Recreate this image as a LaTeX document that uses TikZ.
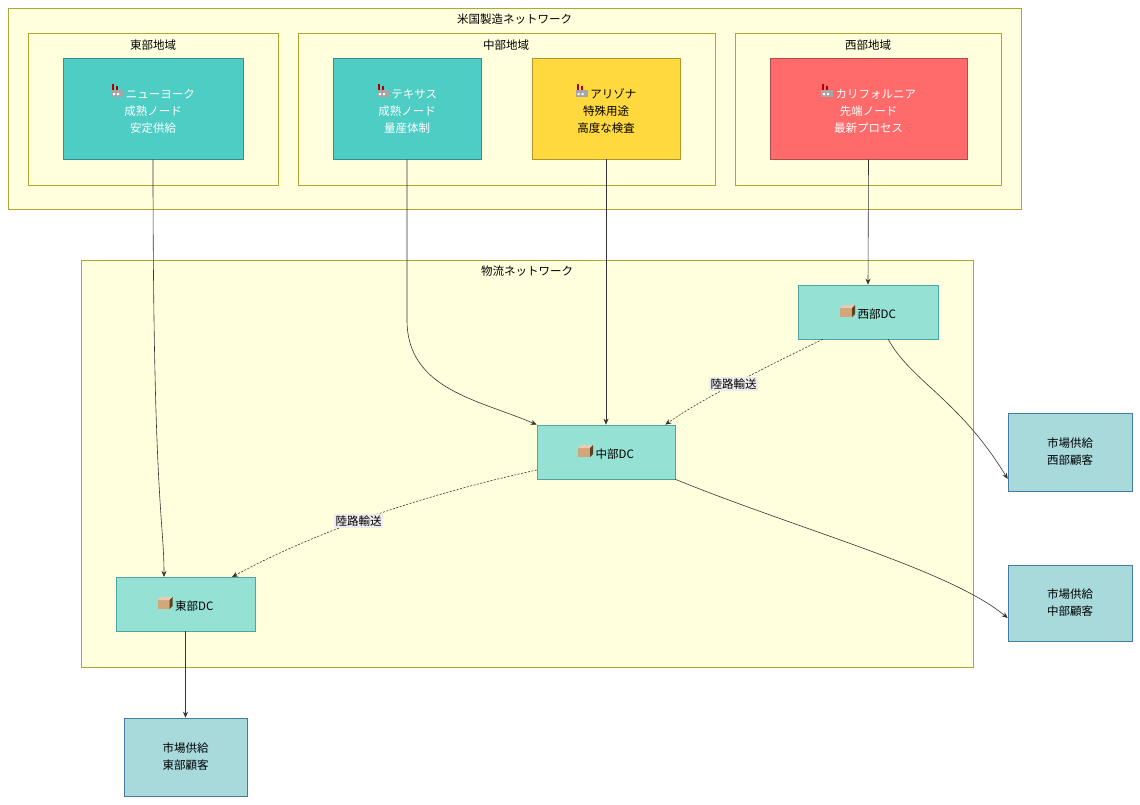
\documentclass[tikz,border=0pt]{standalone}
\usepackage{fontspec}
\setmainfont{Noto Sans CJK JP}
\usetikzlibrary{arrows.meta}
\definecolor{clf}{HTML}{FFFFDE}\definecolor{cls}{HTML}{AAAA33}
\definecolor{teal1}{HTML}{4ECDC4}\definecolor{yel}{HTML}{FFD93D}\definecolor{red1}{HTML}{FF6B6B}
\definecolor{dc}{HTML}{95E1D3}\definecolor{mk}{HTML}{A8DADC}\definecolor{mks}{HTML}{457B9D}
\newcommand{\fac}{\tikz[baseline=-1pt,x=1pt,y=1pt]{\fill[gray!70](0,0) rectangle (12,7);\fill[red!70!black](1,7) rectangle (3,13);\fill[red!70!black](5,7) rectangle (7,11);\fill[white](2,2) rectangle (4,4) (6,2) rectangle (8,4);}}
\newcommand{\pkg}{\tikz[baseline=-1pt,x=1pt,y=1pt]{\fill[brown!70](0,0) rectangle (12,9);\fill[brown!40](0,9)--(3,12)--(15,12)--(12,9)--cycle;\fill[brown!50!black](12,0)--(15,3)--(15,12)--(12,9)--cycle;}}
\begin{document}
\begin{tikzpicture}[x=1pt,y=-1pt,font=\fontsize{11.5}{17}\selectfont,
 cl/.style={draw=cls,fill=clf,line width=0.6pt},
 nd/.style={draw=black!50,line width=0.6pt,align=center,inner sep=0pt},
 ar/.style={-{Stealth[length=6pt,width=5pt]},line width=0.6pt,black!80},
 lb/.style={fill=gray!15,inner sep=1.5pt}]
\useasboundingbox (0,0) rectangle (1140,804);
\draw[cl] (8,8) rectangle (1021,209); \node (t1) at (514.5,19) {米国製造ネットワーク};
\draw[cl] (28,33) rectangle (278,185); \node (t2) at (153,45) {東部地域};
\draw[cl] (298,33) rectangle (715,185); \node (t3) at (506,45) {中部地域};
\draw[cl] (735,33) rectangle (1001,185); \node (t4) at (868,45) {西部地域};
\draw[cl] (81,260) rectangle (973,667); \node (t5) at (527,271) {物流ネットワーク};
\node[nd,fill=teal1,draw=teal1!70!black,minimum width=180,minimum height=101,text=white] (ny) at (153,108.5) {\fac\ ニューヨーク\\成熟ノード\\安定供給};
\node[nd,fill=teal1,draw=teal1!70!black,minimum width=148,minimum height=101,text=white] (tx) at (407,108.5) {\fac\ テキサス\\成熟ノード\\量産体制};
\node[nd,fill=yel,draw=yel!70!black,minimum width=148,minimum height=101] (az) at (606,108.5) {\fac\ アリゾナ\\特殊用途\\高度な検査};
\node[nd,fill=red1,draw=red1!70!black,minimum width=197,minimum height=101,text=white] (ca) at (868.5,108.5) {\fac\ カリフォルニア\\先端ノード\\最新プロセス};
\node[nd,fill=dc,draw=teal!70,minimum width=140,minimum height=54] (wdc) at (868,312) {\pkg\ 西部DC};
\node[nd,fill=dc,draw=teal!70,minimum width=138,minimum height=54] (cdc) at (606,452) {\pkg\ 中部DC};
\node[nd,fill=dc,draw=teal!70,minimum width=139,minimum height=54] (edc) at (185.5,604) {\pkg\ 東部DC};
\node[nd,fill=mk,draw=mks,minimum width=124,minimum height=78] (mw) at (1070,452) {市場供給\\西部顧客};
\node[nd,fill=mk,draw=mks,minimum width=124,minimum height=76] (mc) at (1070,603) {市場供給\\中部顧客};
\node[nd,fill=mk,draw=mks,minimum width=123,minimum height=78] (me) at (185.5,757) {市場供給\\東部顧客};
\coordinate (edcin) at (164,577);
\coordinate (edcin2) at (232,577);
\draw[ar] (ny.south) .. controls (153,500) and (164,520) .. (edcin);
\draw[ar] (tx.south) -- (407,320) .. controls (407,390) and (480,400) .. (cdc.north west);
\draw[ar] (az.south) -- (cdc.north);
\draw[ar] (ca.south) -- (wdc.north);
\draw[ar,dash pattern=on 2pt off 1.5pt] ([xshift=25pt]wdc.south west) .. controls (760,370) and (700,400) .. ([xshift=-10pt]cdc.north east) node[pos=0.5,lb,solid,text=black] (l1) {陸路輸送};
\draw[ar] ([xshift=-50pt]wdc.south east) .. controls (910,380) and (960,400) .. ([yshift=-27pt]mw.west);
\draw[ar] (cdc.south east) .. controls (800,530) and (950,570) .. ([yshift=-15pt]mc.west);
\draw[ar] (edc.south) -- (me.north);
\draw[ar,dash pattern=on 2pt off 1.5pt] ([yshift=-18pt]cdc.west) .. controls (400,500) and (300,540) .. (edcin2) node[pos=0.5,lb,solid,text=black] (l2) {陸路輸送};
\end{tikzpicture}
\end{document}
